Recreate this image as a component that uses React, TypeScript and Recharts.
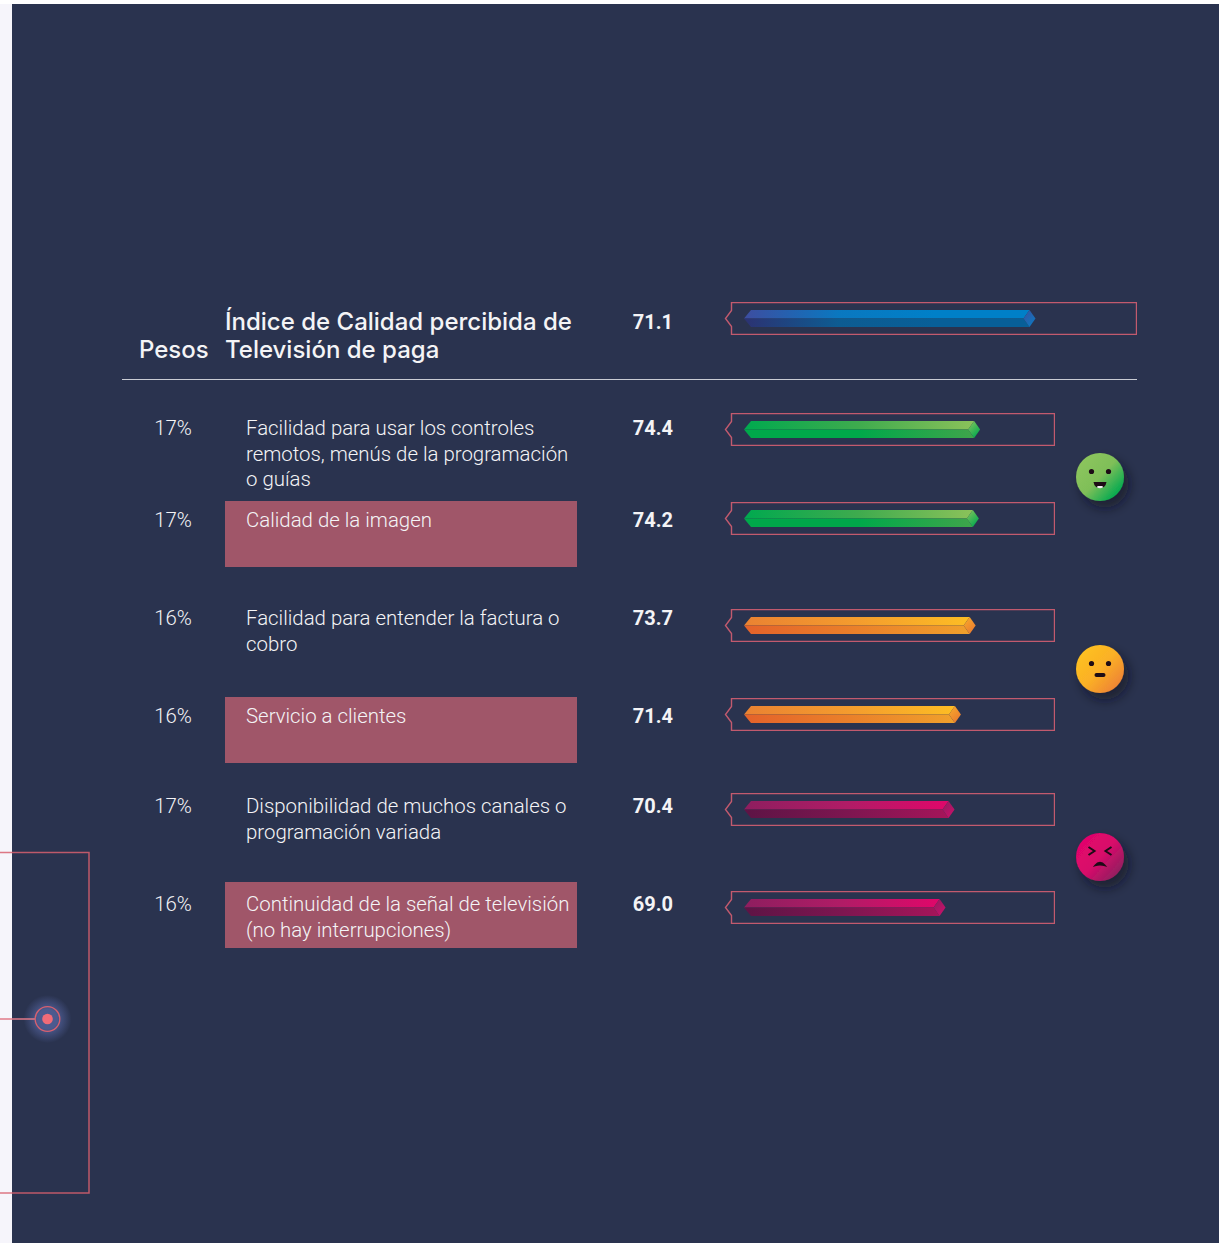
import React from "react";
import { BarChart, Bar, XAxis, YAxis } from "recharts";

// chart data
const indexTitle = "Índice de Calidad percibida de\nTelevisión de paga";
const indexValue = 71.1;
const weights = ["17%", "17%", "16%", "16%", "17%", "16%"];
const attributes = [
  "Facilidad para usar los controles\nremotos, menús de la programación\no guías",
  "Calidad de la imagen",
  "Facilidad para entender la factura o\ncobro",
  "Servicio a clientes",
  "Disponibilidad de muchos canales o\nprogramación variada",
  "Continuidad de la señal de televisión\n(no hay interrupciones)",
];
const scores = [74.4, 74.2, 73.7, 71.4, 70.4, 69.0];
const scoreColors = ["green", "green", "orange", "orange", "magenta", "magenta"];

// layout of the rows, this chart has uneven row spacing
const frameTops = [413, 502, 609, 698, 793, 891];
const textTops = [416, 508, 606, 704, 794, 892];
const highlightTops = [501, 697, 882];

const BG = "#2a334f";
const PINK = "#c25a6e";
const BODY_FONT = "Roboto, sans-serif";
const HEAD_FONT = "Inter, sans-serif";

const ramps: Record<string, string[][]> = {
  blue: [["#3d4da0", "#0a78c0", "#0080c8", "#0080c8"], ["#2c3272", "#0d5c92", "#085f98", "#085f98"], ["#3a4fa0", "#0c78c0"]],
  green: [["#00a94f", "#3fab4e", "#8bc25a"], ["#00a84a", "#00a84a", "#3fa54b"], ["#8cc55c", "#00a94f"]],
  orange: [["#ea8232", "#f49c2e", "#fdbd24"], ["#e4622a", "#ea802a", "#f0a02c"], ["#f9ad2a", "#e97a30"]],
  magenta: [["#8e1e5f", "#b01c66", "#e0076a"], ["#5d1445", "#7d1650", "#a5155a"], ["#8e1e5f", "#c8106a"]],
};

function Gradients() {
  return (
    <svg width={0} height={0} style={{ position: "absolute" }}>
      <defs>
        {Object.keys(ramps).map((name) => (
          <React.Fragment key={name}>
            {ramps[name].map((stops, i) => (
              <linearGradient
                key={i}
                id={`${name}-${i}`}
                x1="0"
                y1="0"
                x2={i === 2 ? "0.7" : "1"}
                y2={i === 2 ? "1" : "0"}
              >
                {stops.map((c, j) => (
                  <stop key={j} offset={j / (stops.length - 1)} stopColor={c} />
                ))}
              </linearGradient>
            ))}
          </React.Fragment>
        ))}
      </defs>
    </svg>
  );
}

// the long prism that stands for the bar
function Prism(props: any) {
  const { x, y, width, height, color } = props;
  const mid = y + height / 2;
  const top = mid - 8.5;
  const bottom = mid + 8.5;
  const tip = x + width;
  return (
    <g>
      <polygon
        points={`${x},${mid} ${x + 7},${top} ${tip - 6},${top} ${tip - 12},${mid}`}
        fill={`url(#${color}-0)`}
      />
      <polygon
        points={`${x},${mid} ${x + 7},${bottom} ${tip - 6},${bottom} ${tip - 12},${mid}`}
        fill={`url(#${color}-1)`}
      />
      <polygon
        points={`${tip - 12},${mid} ${tip - 6},${top} ${tip},${mid} ${tip - 6},${bottom}`}
        fill={`url(#${color}-2)`}
      />
    </g>
  );
}

// outline with the small notch on its left side
function Frame(props: any) {
  const { x, y, width, height } = props;
  const left = x - 12.5;
  const right = x + width - 0.5;
  const mid = y + height / 2;
  const t = y + 0.5;
  const b = y + height - 0.5;
  return (
    <polygon
      points={`${left},${t} ${right},${t} ${right},${b} ${left},${b} ${left},${mid + 8} ${left - 6},${mid} ${left},${mid - 8}`}
      fill="none"
      stroke={PINK}
      strokeWidth={1.4}
    />
  );
}

function ScoreBar(props: {
  value: number;
  color: string;
  top: number;
  right: number;
  domain: [number, number];
}) {
  const { value, color, top, right, domain } = props;
  const left = 724;
  return (
    <div style={{ position: "absolute", left, top }}>
      <BarChart
        width={right - left}
        height={33}
        layout="vertical"
        data={[{ name: "score", value }]}
        margin={{ top: 0, right: 0, bottom: 0, left: 20 }}
        barCategoryGap={0}
      >
        <XAxis type="number" hide domain={domain} allowDataOverflow />
        <YAxis type="category" hide dataKey="name" />
        <Bar
          dataKey="value"
          isAnimationActive={false}
          background={(p: any) => <Frame {...p} key="frame" />}
          shape={(p: any) => <Prism {...p} color={color} />}
        />
      </BarChart>
    </div>
  );
}

function Face(props: { cy: number; kind: string }) {
  const { cy, kind } = props;
  const stops: Record<string, string[]> = {
    happy: ["#8cc55c", "#7fbf59", "#00a94f"],
    neutral: ["#fdc020", "#fbb026", "#ee8434"],
    sad: ["#e2056c", "#d80a6a", "#922060"],
  };
  const ink = "#1d0c16";
  return (
    <svg
      width={80}
      height={80}
      style={{ position: "absolute", left: 1060, top: cy - 40, overflow: "visible" }}
    >
      <defs>
        <linearGradient id={`face-${kind}`} x1="0.12" y1="0.15" x2="0.88" y2="0.85">
          {stops[kind].map((c, i) => (
            <stop key={i} offset={i / 2} stopColor={c} />
          ))}
        </linearGradient>
        <filter id={`shadow-${kind}`} x="-60%" y="-60%" width="220%" height="220%">
          <feDropShadow dx="5" dy="7" stdDeviation="6" floodColor="#10131f" floodOpacity="0.6" />
        </filter>
      </defs>
      <circle cx={40} cy={40} r={24} fill={`url(#face-${kind})`} filter={`url(#shadow-${kind})`} />
      {kind !== "sad" && (
        <>
          <circle cx={31.5} cy={34.5} r={2.6} fill={ink} />
          <circle cx={48.5} cy={34.5} r={2.6} fill={ink} />
        </>
      )}
      {kind === "happy" && (
        <>
          <path d="M33.5 45 h13 q-1 6 -6.5 6 q-5.500 0 -6.500 -6z" fill={ink} />
          <path d="M37 50.500 q3 1.500 6 0 l-0.500 -1.500 h-5z" fill="#f2f2f2" />
        </>
      )}
      {kind === "neutral" && <rect x={34.500} y={44} width={11} height={4} rx={2} fill={ink} />}
      {kind === "sad" && (
        <>
          <path d="M28.500 30 l6 4 l-6 4" fill="none" stroke={ink} strokeWidth={2} />
          <path d="M51.500 30 l-6 4 l6 4" fill="none" stroke={ink} strokeWidth={2} />
          <path d="M35 48.500 q5 -6 10 0 q-5 -1.500 -10 0z" fill={ink} stroke={ink} strokeWidth={1.500} />
        </>
      )}
    </svg>
  );
}

function Decoration() {
  return (
    <svg width={1219} height={1243} style={{ position: "absolute", left: 0, top: 0 }}>
      <defs>
        <radialGradient id="glow">
          <stop offset="0.4" stopColor="#4c5a8f" />
          <stop offset="1" stopColor="#4c5a8f" stopOpacity="0" />
        </radialGradient>
      </defs>
      <polyline points="0,852.500 89,852.500 89,1193 0,1193" fill="none" stroke="#d8606f" strokeOpacity={0.85} strokeWidth={1.500} />
      <circle cx={47.500} cy={1019} r={24} fill="url(#glow)" />
      <line x1={0} y1={1019} x2={35} y2={1019} stroke="#e07a88" strokeWidth={1.500} />
      <circle cx={47.500} cy={1019} r={12.300} fill="none" stroke="#d8606f" strokeWidth={1.300} />
      <circle cx={47.500} cy={1019} r={5.300} fill="#f26b78" />
      <line x1={122} y1={379.500} x2={1137} y2={379.500} stroke="#c9ccd4" strokeWidth={1} />
    </svg>
  );
}

export default function App() {
  const bodyText: React.CSSProperties = {
    position: "absolute",
    fontFamily: BODY_FONT,
    fontSize: 20.4,
    fontWeight: 300,
    lineHeight: "25.500px",
    color: "#f4f4f6",
    whiteSpace: "pre-line",
  };
  const scoreText: React.CSSProperties = {
    ...bodyText,
    left: 600,
    width: 73,
    fontSize: 20,
    textAlign: "right",
    fontWeight: 700,
  };
  const headText: React.CSSProperties = {
    ...bodyText,
    fontFamily: HEAD_FONT,
    fontSize: 24,
    lineHeight: "28px",
    fontWeight: 500,
  };
  return (
    <div
      style={{
        position: "absolute",
        left: 0,
        top: 0,
        width: 1219,
        height: 1243,
        overflow: "hidden",
        background: "#ffffff",
      }}
    >
      <div style={{ position: "absolute", left: 0, top: 4, width: 12, height: 1239, background: "#f6f5fb" }} />
      <div style={{ position: "absolute", left: 12, top: 4, width: 1207, height: 1239, background: BG }} />
      <Gradients />
      {highlightTops.map((top) => (
        <div key={top} style={{ position: "absolute", left: 225, top, width: 352, height: 66, background: "#a05669" }} />
      ))}
      <Decoration />

      <div style={{ ...headText, left: 225, top: 308 }}>{indexTitle}</div>
      <div style={{ ...headText, left: 139, top: 336 }}>Pesos</div>
      <div style={{ ...scoreText, top: 310 }}>{indexValue.toFixed(1)}</div>
      <ScoreBar value={indexValue} color="blue" top={302} right={1137} domain={[37.5, 82.8]} />

      {attributes.map((label, i) => (
        <React.Fragment key={label}>
          <div style={{ ...bodyText, left: 130, width: 86, textAlign: "center", top: textTops[i] }}>{weights[i]}</div>
          <div style={{ ...bodyText, left: 246, top: textTops[i] }}>{label}</div>
          <div style={{ ...scoreText, top: textTops[i] }}>{scores[i].toFixed(1)}</div>
          <ScoreBar value={scores[i]} color={scoreColors[i]} top={frameTops[i]} right={1055} domain={[37.5, 86.1]} />
        </React.Fragment>
      ))}

      <Face cy={477} kind="happy" />
      <Face cy={669} kind="neutral" />
      <Face cy={857} kind="sad" />
    </div>
  );
}
